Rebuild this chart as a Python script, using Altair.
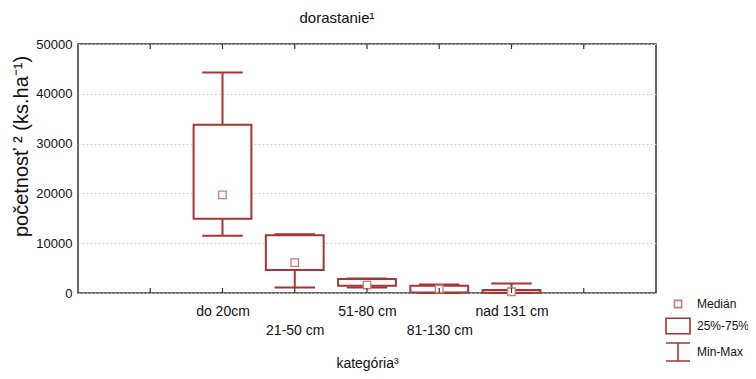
import altair as alt
import pandas as pd

# ---- data ----
categories = ["do 20cm", "21-50 cm", "51-80 cm", "81-130 cm", "nad 131 cm"]
positions = [2, 3, 4, 5, 6]
mins = [11500, 1100, 1100, 0, 0]
q1s = [14900, 4600, 1460, 100, 50]
medians = [19700, 6100, 1600, 800, 250]
q3s = [33800, 11600, 2800, 1450, 600]
maxs = [44300, 11800, 2900, 1700, 1900]

x_ticks = [1, 2, 3, 4, 5, 6, 7]
y_ticks = [0, 10000, 20000, 30000, 40000, 50000]
legend_labels = ["Medián", "25%-75%", "Min-Max"]
chart_title = ["dorastanie¹"]

DARK = "#a83434"
LIGHT = "#d27a7a"
FONT = "Liberation Sans"

df = pd.DataFrame({"cat": categories, "pos": positions, "mn": mins, "q1": q1s,
                   "med": medians, "q3": q3s, "mx": maxs})
tick_df = pd.DataFrame({"t": x_ticks})
leg_df = pd.DataFrame({"leg": legend_labels})
title_df = pd.DataFrame({"title": chart_title})

label_expr = "".join(f"datum.value == {p} ? '{c}' : " for p, c in zip(positions, categories)) + "''"
low_test = " || ".join(f"datum.value == {p}" for p in positions[1::2])

xs = alt.Scale(domain=[0, 8], nice=False, zero=False)
ys = alt.Scale(domain=[0, 50000], nice=False)
xa = alt.Axis(values=positions, labelExpr=label_expr, ticks=False, domain=False, grid=False,
              labelFontSize=14, labelFont=FONT, labelColor="#111", labelBaseline="top",
              labelPadding={"condition": {"test": low_test, "value": 30}, "value": 11},
              title="kategória³", titleFont=FONT, titleFontSize=14, titleFontWeight="normal",
              titleColor="#111", titleY=70, titleBaseline="middle", labelFlush=False,
              labelOverlap=False)
ya = alt.Axis(values=y_ticks, format="d", ticks=False, domain=False, grid=True,
              gridColor="#cdd3da", gridDash=[2, 2], gridWidth=1, labelFontSize=13,
              labelFont=FONT, labelColor="#111", labelPadding=6,
              title="početnosť ² (ks.ha⁻¹)", titleFont=FONT, titleFontSize=20,
              titleFontWeight="normal", titleColor="#111", titleAngle=270, titleX=-57,
              titleY=102, titleAlign="center", titleBaseline="middle")


def X(f):
    return alt.X(f, type="quantitative", scale=xs, axis=xa)


def Y(f):
    return alt.Y(f, type="quantitative", scale=ys, axis=ya)


base = alt.Chart(df)

whisker = base.mark_rule(color=DARK, strokeWidth=2).encode(x=X("pos"), y=Y("mn"), y2="mx")
caps_calc = base.transform_calculate(xl="datum.pos - 0.28", xr="datum.pos + 0.28")
cap_min = caps_calc.mark_rule(color=DARK, strokeWidth=2).encode(x=X("xl"), x2="xr", y=Y("mn"))
cap_max = caps_calc.mark_rule(color=DARK, strokeWidth=2).encode(x=X("xl"), x2="xr", y=Y("mx"))
box = base.transform_calculate(bl="datum.pos - 0.4", br="datum.pos + 0.4").mark_rect(
    fill="white", stroke=DARK, strokeWidth=2).encode(x=X("bl"), x2="br", y=Y("q1"), y2="q3")
median = base.mark_square(size=56, filled=False, fill="white", fillOpacity=1, stroke=LIGHT,
                          strokeWidth=1.3, opacity=1).encode(x=X("pos"), y=Y("med"))

tick_bottom = alt.Chart(tick_df).mark_rule(color="#333", strokeWidth=1.2).encode(
    x=X("t"), y=alt.value(249), y2=alt.value(244))
tick_top = alt.Chart(tick_df).mark_rule(color="#333", strokeWidth=1.2).encode(
    x=X("t"), y=alt.value(0), y2=alt.value(5))

title_text = alt.Chart(title_df).mark_text(
    font=FONT, fontSize=15, color="#111", align="center", baseline="middle"
).encode(text="title:N", x=alt.value(259), y=alt.value(-26))

paths = [
    "M-0.3,-0.3H0.3V0.3H-0.3Z",
    "M-1,-0.65H1V0.65H-1Z",
    "M-1,-0.75H1M0,-0.75V0.75M-1,0.75H1",
]
leg_props = dict(title=None, orient="none", legendX=587, legendY=247, symbolSize=576,
                 labelFont=FONT, labelFontSize=12, labelColor="#111", labelOffset=6,
                 rowPadding=2, padding=0, symbolStrokeWidth=1.6)
legend_layer = alt.Chart(leg_df).mark_point(filled=False, opacity=0, strokeWidth=1.6).encode(
    x=alt.value(20), y=alt.value(20),
    shape=alt.Shape("leg:N", scale=alt.Scale(domain=legend_labels, range=paths),
                    legend=alt.Legend(**leg_props)),
    stroke=alt.Stroke("leg:N", scale=alt.Scale(domain=legend_labels, range=[LIGHT, DARK, DARK]),
                      legend=alt.Legend(**leg_props)),
)

chart = alt.layer(
    whisker, box, cap_min, cap_max, median, tick_bottom, tick_top, title_text, legend_layer
).properties(
    width=578, height=249,
    background="white",
    autosize=alt.AutoSizeParams(type="none"),
    padding={"left": 70, "top": 36, "right": 92, "bottom": 78},
).configure_view(stroke="#333", strokeWidth=1.5)

chart.save("out.html", embed_options={"renderer": "svg", "actions": False})
